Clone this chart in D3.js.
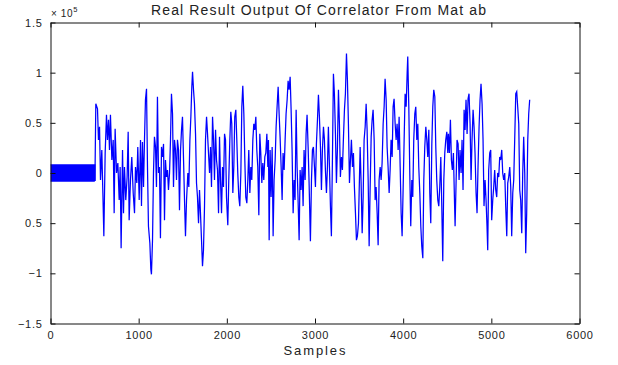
<!DOCTYPE html>
<html>
<head>
<meta charset="utf-8">
<script src="https://cdn.jsdelivr.net/npm/d3@7"></script>
<style>
  html, body { margin: 0; padding: 0; background: #fff; }
  svg { display: block; }
  text { font-family: "Liberation Sans", Arial, Helvetica, sans-serif; fill: #222; }
</style>
</head>
<body>
<svg id="chart" width="618" height="365"></svg>
<script>
// Correlator output (units of 1e5), sample index vs. amplitude.

// Training preamble: square wave levels, one every 8 samples from 0 to 504.
const preambleStep = 8;
const preambleLevels = [
  0.08,-0.08,0.08,-0.08,0.08,-0.08,0.08,-0.08,0.08,-0.08,0.08,-0.08,0.08,-0.08,0.08,-0.08,
  0.08,-0.08,0.08,-0.08,0.08,-0.08,0.08,-0.08,0.08,-0.08,0.08,-0.08,0.08,-0.08,0.08,-0.08,
  0.08,-0.08,0.08,-0.08,0.08,-0.08,0.08,-0.08,0.08,-0.08,0.08,-0.08,0.08,-0.08,0.08,-0.08,
  0.08,-0.08,0.08,-0.08,0.08,-0.08,0.08,-0.08,0.08,-0.08,0.08,-0.08,0.08,-0.08,0.08,-0.08
];

// Payload section: [sample, amplitude]
const payload = [
  [514,.69],[533,.64],[544,.33],[556,.46],[567,-.07],[582,.23],[594,-.2],[605,-.63],[620,.2],[635,.58],
  [646,.33],[658,.53],[669,.23],[680,.58],[696,.13],[711,.33],[722,-.4],[733,.44],[749,0],[764,.1],
  [779,-.27],[790,.06],[801,-.75],[817,.23],[828,-.4],[839,.06],[854,-.27],[869,-.04],[881,.41],[892,-.47],
  [907,-.07],[922,.16],[938,-.2],[953,-.4],[964,.06],[979,-.1],[990,.26],[1006,-.27],[1021,.33],[1032,-.33],
  [1043,.31],[1055,-.14],[1066,.33],[1077,.73],[1089,.84],[1100,.06],[1111,-.53],[1127,-.7],[1138,-.96],[1145,-1.01],
  [1157,-.67],[1168,0],[1179,.36],[1191,.26],[1202,-.14],[1213,.76],[1225,0],[1236,.06],[1247,-.65],[1259,.26],
  [1270,.16],[1282,.29],[1293,-.47],[1304,.13],[1316,-.04],[1327,.03],[1338,-.17],[1350,0],[1361,.33],[1372,.79],
  [1384,.59],[1395,-.14],[1406,.33],[1418,.23],[1429,-.07],[1440,.33],
  [1452,.23],[1463,-.37],[1475,.23],[1486,.43],[1497,.56],[1509,.13],[1520,-.27],[1531,-.63],[1543,-.27],[1558,0],
  [1569,-.14],[1581,.33],[1592,.56],[1603,.86],[1611,1.01],[1622,.83],[1633,.69],[1645,.39],[1656,-.1],[1667,-.24],
  [1679,-.5],[1690,-.17],[1701,-.4],[1713,-.67],[1724,-.93],[1735,-.77],[1747,-.33],[1758,.33],[1770,.56],[1781,.39],
  [1792,.2],[1804,0],[1815,.26],[1826,-.14],[1838,.56],[1849,.33],[1860,-.07],[1872,.43],[1883,.13],[1894,.03],
  [1906,-.4],[1917,.36],[1928,-.07],[1940,-.4],[1951,.06],[1962,-.14],[1974,.39],[1985,.33],[1996,-.24],[2011,-.52],
  [2022,-.07],[2034,.33],[2045,.61],[2056,.49],[2068,-.2],[2079,.06],[2090,.56],[2102,.63],[2113,.33],[2124,0],
  [2136,-.24],[2147,-.33],[2159,0],[2170,.66],[2181,.87],[2193,.59],[2204,.13],[2215,-.24],[2227,-.3],[2238,-.07],
  [2249,.23],[2261,-.2],[2272,.06],[2283,-.07],[2295,.33],[2306,.49],[2317,.43],[2329,.56],[2340,.23],[2351,.06],
  [2363,-.42],[2374,.39],[2385,.2],[2397,-.1],[2408,.1],[2419,-.07],[2431,.16],[2442,.2],[2454,.39],[2465,.06],
  [2472,.33],[2480,-.67],[2491,.23],[2502,-.24],[2514,.26],[2525,-.63],[2536,-.07],[2548,.13],[2559,.46],[2570,.66],
  [2582,.86],[2593,.59],[2604,.36],[2616,.06],[2627,-.27],[2638,.2],[2650,.03],[2661,.33],[2672,.59],[2684,.73],
  [2695,.92],[2706,.83],[2718,.96],[2729,.63],[2740,.23],[2752,-.4],[2763,-.07],[2774,-.27],[2786,.63],[2797,.06],
  [2808,-.27],[2820,-.67],[2831,.03],[2842,-.17],[2854,.06],[2865,-.33],[2876,.23],[2888,-.07],[2899,.39],[2910,.58],
  [2922,.26],[2933,-.1],[2948,-.68],[2960,-.07],[2971,.23],[2982,.26],[2994,.06],[3005,-.14],[3016,.29],[3028,.53],
  [3039,.78],[3050,.56],[3062,.26],[3073,-.17],[3084,.23],[3096,.46],[3107,.33],[3118,.03],[3130,-.2],[3141,.06],
  [3152,.46],[3164,.06],[3175,-.33],[3186,-.63],[3198,.16],[3209,.99],[3220,.79],[3232,.39],[3243,-.1],[3254,.23],
  [3266,.83],[3277,.49],[3288,-.04],[3300,.16],[3311,.03],[3323,.36],[3334,.63],[3345,.79],[3357,1.19],[3368,.92],
  [3379,.49],[3391,-.1],[3402,.13],[3413,.33],[3425,.06],[3436,.2],[3447,-.14],[3459,-.4],[3470,-.67],[3481,-.63],
  [3493,-.5],[3512,.26],[3523,-.1],[3535,-.6],[3546,-.24],[3557,.33],[3569,.46],[3580,.69],[3591,.43],[3603,-.07],
  [3614,-.73],[3625,-.17],[3637,.36],[3648,.53],[3659,.63],[3671,.33],[3682,-.27],[3693,-.14],[3705,-.4],[3716,-.72],
  [3727,-.07],[3739,.06],[3750,-.07],[3761,.1],[3773,.49],[3784,.66],[3795,.94],[3807,.73],[3818,.26],[3829,.06],
  [3841,-.2],[3852,.03],[3863,.33],[3875,.16],[3886,.66],[3897,.74],[3909,.49],[3920,.33],[3931,.49],[3943,.23],
  [3954,.56],[3966,.06],[3977,-.4],[3988,-.63],[4000,-.14],[4011,.33],[4022,.79],[4034,.66],[4045,.99],[4052,1.16],
  [4064,.66],[4075,0],[4086,-.53],[4098,-.07],[4109,-.24],[4120,.33],[4132,.59],[4143,.66],[4155,.33],[4166,.49],
  [4177,.06],[4189,-.2],[4200,-.53],[4211,-.73],[4223,-.85],[4234,-.07],[4245,.26],[4257,.46],[4268,.33],[4279,.16],
  [4291,.43],[4302,-.2],[4313,-.5],[4325,.29],[4336,.66],[4347,.83],[4359,.76],[4370,.26],[4381,-.07],[4393,-.27],
  [4404,-.33],[4415,-.14],[4427,.16],[4438,-.33],[4449,-.88],[4461,-.07],[4472,.2],[4483,.33],[4495,.41],[4506,.2],
  [4513,.39],[4524,.2],[4536,.53],[4547,.13],[4558,.03],[4570,.2],[4581,-.24],[4589,-.53],[4600,-.1],[4611,.33],
  [4623,.29],[4634,-.07],[4645,.23],[4657,0],[4668,.33],[4679,-.17],[4691,.63],[4702,.43],[4713,.73],[4725,.39],
  [4736,.74],[4747,.79],[4759,.49],[4770,-.07],[4781,.33],[4793,.63],[4804,.46],[4815,.2],[4827,-.2],[4838,-.4],
  [4849,.06],[4861,.46],[4872,.73],[4883,.89],[4895,.69],[4906,.33],[4917,-.33],[4929,-.07],[4940,-.27],[4951,-.53],
  [4959,-.77],[4970,.03],[4982,.2],[4993,.23],[5004,-.47],[5016,-.27],[5027,-.14],[5038,.03],[5050,-.17],[5061,-.24],
  [5072,0],[5084,-.04],[5095,.16],[5106,.13],[5118,.23],[5129,0],[5140,-.07],[5152,0],[5163,-.33],[5175,-.63],
  [5186,-.1],[5197,-.04],[5209,.06],[5220,-.14],[5231,-.63],[5243,-.2],[5254,-.07],[5265,.33],[5277,.79],[5288,.81],
  [5299,.66],[5311,.49],[5322,-.17],[5333,-.27],[5345,-.6],[5356,0],[5367,.36],[5379,0],[5390,-.8],[5401,-.4],
  [5413,.33],[5424,.59],[5435,.73]
];

// Axis ticks and labels
const xTicks = [0, 1000, 2000, 3000, 4000, 5000, 6000];
const yTicks = [-1.5, -1, -0.5, 0, 0.5, 1, 1.5];
const yTickLabels = ["\u22121.5", "\u22121", "0.5", "0", "0.5", "1", "1.5"];

const titleText = "Real Result Output Of Correlator From Mat ab";
const xLabelText = "Samples";

const svg = d3.select("#chart");
const plot = { left: 50, right: 579, top: 22.5, bottom: 323.5 };

const x = d3.scaleLinear().domain([0, 6000]).range([plot.left + 0.5, plot.right + 0.5]);
const y = d3.scaleLinear().domain([-1.5, 1.5]).range([plot.bottom, plot.top]);

const traceColor = "#0000ff";

// Preamble drawn as a held (stepped) square wave, joined to the payload trace
const preamble = preambleLevels.map((v, i) => [i * preambleStep, v]);

svg.append("path")
  .datum(preamble)
  .attr("fill", "none")
  .attr("stroke", traceColor)
  .attr("stroke-width", 1.2)
  .attr("d", d3.line().curve(d3.curveStepAfter).x(d => x(d[0])).y(d => y(d[1])));

svg.append("path")
  .datum([preamble[preamble.length - 1]].concat(payload))
  .attr("fill", "none")
  .attr("stroke", traceColor)
  .attr("stroke-width", 1.25)
  .attr("d", d3.line().x(d => x(d[0])).y(d => y(d[1])));

// Box with inward ticks on all four sides
const tickLen = 5;
const axisColor = "#111";

const bottomAxis = d3.axisBottom(x).tickValues(xTicks).tickSizeInner(-tickLen).tickSizeOuter(0).tickPadding(8)
  .tickFormat(d3.format("d"));
const topAxis = d3.axisTop(x).tickValues(xTicks).tickSizeInner(-tickLen).tickSizeOuter(0).tickFormat("");
const leftAxis = d3.axisLeft(y).tickValues(yTicks).tickSizeInner(-tickLen).tickSizeOuter(0).tickPadding(8)
  .tickFormat((d, i) => yTickLabels[i]);
const rightAxis = d3.axisRight(y).tickValues(yTicks).tickSizeInner(-tickLen).tickSizeOuter(0).tickFormat("");

function styleAxis(g) {
  g.selectAll("path, line").attr("stroke", axisColor).attr("stroke-width", 1);
  g.selectAll("text")
    .style("font-family", "'Liberation Sans', Arial, sans-serif")
    .style("font-size", "11px")
    .style("letter-spacing", "0.7px")
    .attr("fill", "#222");
}

svg.append("g").attr("transform", `translate(0,${plot.bottom})`).call(bottomAxis).call(styleAxis);
svg.append("g").attr("transform", `translate(0,${plot.top})`).call(topAxis).call(styleAxis);
svg.append("g").attr("transform", `translate(${plot.left + 0.5},0)`).call(leftAxis).call(styleAxis);
svg.append("g").attr("transform", `translate(${plot.right + 0.5},0)`).call(rightAxis).call(styleAxis);

// Exponent marker above the y axis
const expo = svg.append("text")
  .attr("x", plot.left + 1)
  .attr("y", 17)
  .style("font-size", "10px")
  .style("letter-spacing", "0.6px");
expo.append("tspan").text("\u00d7 10");
expo.append("tspan").attr("dy", -5).style("font-size", "7.5px").text("5");

// Title
svg.append("text")
  .attr("x", (plot.left + plot.right) / 2 + 4)
  .attr("y", 15)
  .attr("text-anchor", "middle")
  .attr("textLength", 335)
  .attr("lengthAdjust", "spacing")
  .style("font-size", "14px")
  .text(titleText);

// x-axis label
svg.append("text")
  .attr("x", (plot.left + plot.right) / 2)
  .attr("y", 355)
  .attr("text-anchor", "middle")
  .attr("textLength", 62)
  .attr("lengthAdjust", "spacing")
  .style("font-size", "13px")
  .text(xLabelText);
</script>
</body>
</html>
